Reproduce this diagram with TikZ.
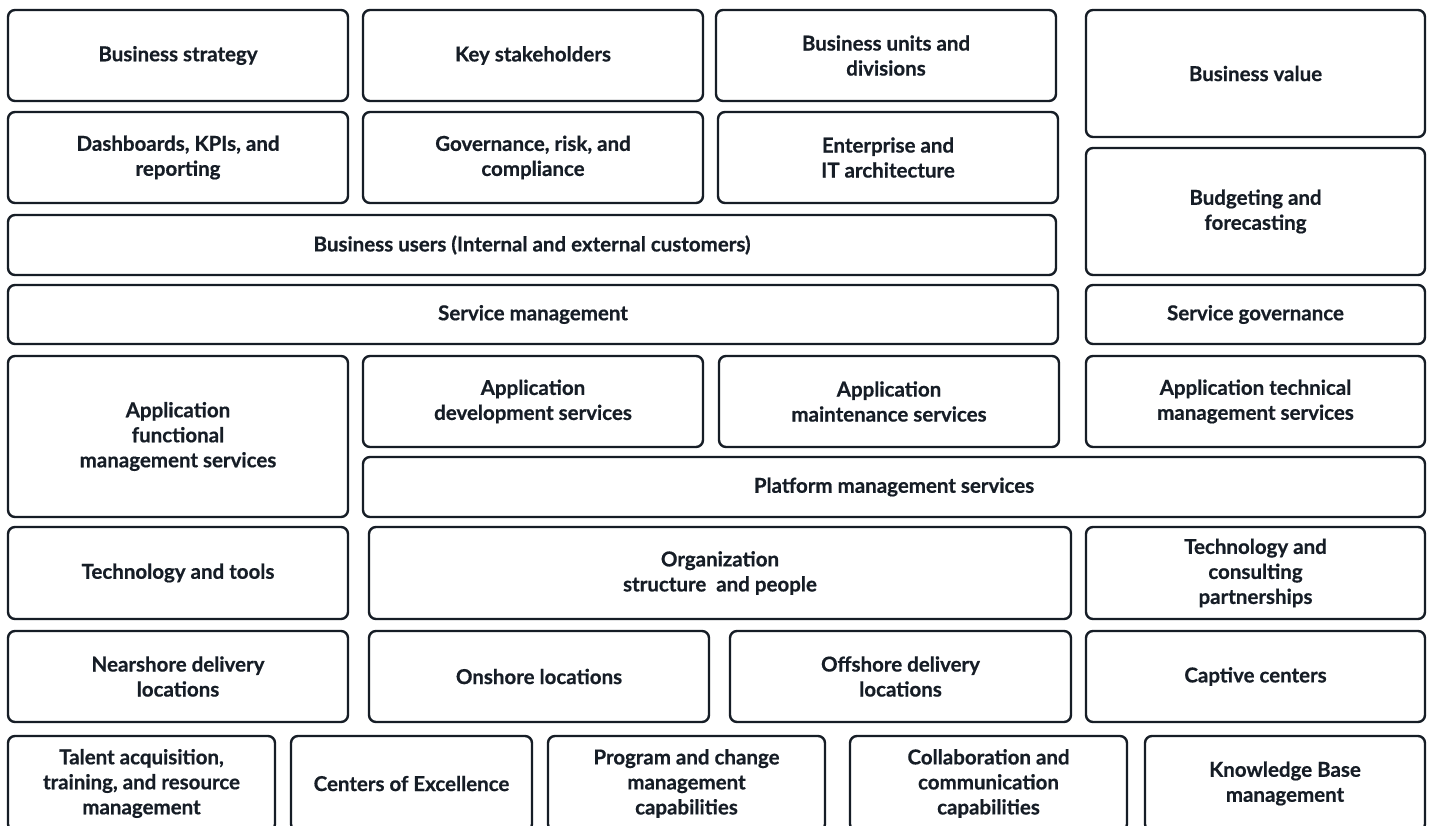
\documentclass[tikz,border=0pt]{standalone}
\usepackage{fontspec}
\setmainfont{Lato}[BoldFeatures={FakeBold=0.6}]
\usetikzlibrary{positioning}
\definecolor{ink}{HTML}{161D26}

\tikzset{
  blk/.style={draw=ink, line width=2.4pt, rounded corners=7pt, rectangle,
    text=ink, align=center, inner sep=0pt,
    font=\bfseries\fontsize{20.5}{25}\selectfont},
}

\begin{document}
\begin{tikzpicture}[x=1pt, y=-1pt]
  \clip (0,0) rectangle (1430,825);
  \fill[white] (0,0) rectangle (1430,825);

  % top: business context
  \node[blk, minimum width=340, minimum height=91] (bstrat) at (178,55.5) {Business strategy};
  \node[blk, minimum width=340, minimum height=91] (keyst) at (533,55.5) {Key stakeholders};
  \node[blk, minimum width=340, minimum height=91] (bunits) at (886,55.5) {Business units and\\divisions};
  \node[blk, minimum width=339, minimum height=127] (bvalue) at (1255.5,73.5) {Business value};

  \node[blk, minimum width=340, minimum height=91] (dash) at (178,157.5) {Dashboards, KPIs, and\\reporting};
  \node[blk, minimum width=340, minimum height=91] (grc) at (533,157.5) {Governance, risk, and\\compliance};
  \node[blk, minimum width=340, minimum height=91] (eita) at (888,157.5) {Enterprise and\\IT architecture};
  \node[blk, minimum width=339, minimum height=127] (budget) at (1255.5,211.5) {Budgeting and\\forecasting};

  \node[blk, minimum width=1048, minimum height=60] (busers) at (532,245) {Business users (Internal and external customers)};

  % services
  \node[blk, minimum width=1050, minimum height=59] (svcmgmt) at (533,314.5) {Service management};
  \node[blk, minimum width=339, minimum height=59] (svcgov) at (1255.5,314.5) {Service governance};

  \node[blk, minimum width=340, minimum height=161] (appfunc) at (178,436.5) {Application\\functional\\management services};
  \node[blk, minimum width=340, minimum height=91] (appdev) at (533,401.5) {Application\\development services};
  \node[blk, minimum width=340, minimum height=91] (appmaint) at (889,401.5) {Application\\maintenance services};
  \node[blk, minimum width=339, minimum height=91] (apptech) at (1255.5,401.5) {Application technical\\management services};
  \node[blk, minimum width=1062, minimum height=60] (platform) at (894,487) {Platform management services};

  % delivery
  \node[blk, minimum width=340, minimum height=92] (techtools) at (178,573) {Technology and tools};
  \node[blk, minimum width=702, minimum height=92] (orgppl) at (720,573) {Organization\\structure~ and people};
  \node[blk, minimum width=339, minimum height=92] (techpart) at (1255.5,573) {Technology and\\consulting\\partnerships};

  \node[blk, minimum width=340, minimum height=91] (nearshore) at (178,676.5) {Nearshore delivery\\locations};
  \node[blk, minimum width=340, minimum height=91] (onshore) at (539,676.5) {Onshore locations};
  \node[blk, minimum width=341, minimum height=91] (offshore) at (900.5,676.5) {Offshore delivery\\locations};
  \node[blk, minimum width=339, minimum height=91] (captive) at (1255.5,676.5) {Captive centers};

  % enablers (cut at the bottom edge)
  \node[blk, minimum width=267, minimum height=95] (talent) at (141.5,783.5) {Talent acquisition,\\training, and resource\\management};
  \node[blk, minimum width=241, minimum height=95] (coe) at (411.5,783.5) {Centers of Excellence};
  \node[blk, minimum width=277, minimum height=95] (progchg) at (686.5,783.5) {Program and change\\management\\capabilities};
  \node[blk, minimum width=277, minimum height=95] (collab) at (988.5,783.5) {Collaboration and\\communication\\capabilities};
  \node[blk, minimum width=280, minimum height=95] (kbase) at (1285,783.5) {Knowledge Base\\management};
\end{tikzpicture}
\end{document}
